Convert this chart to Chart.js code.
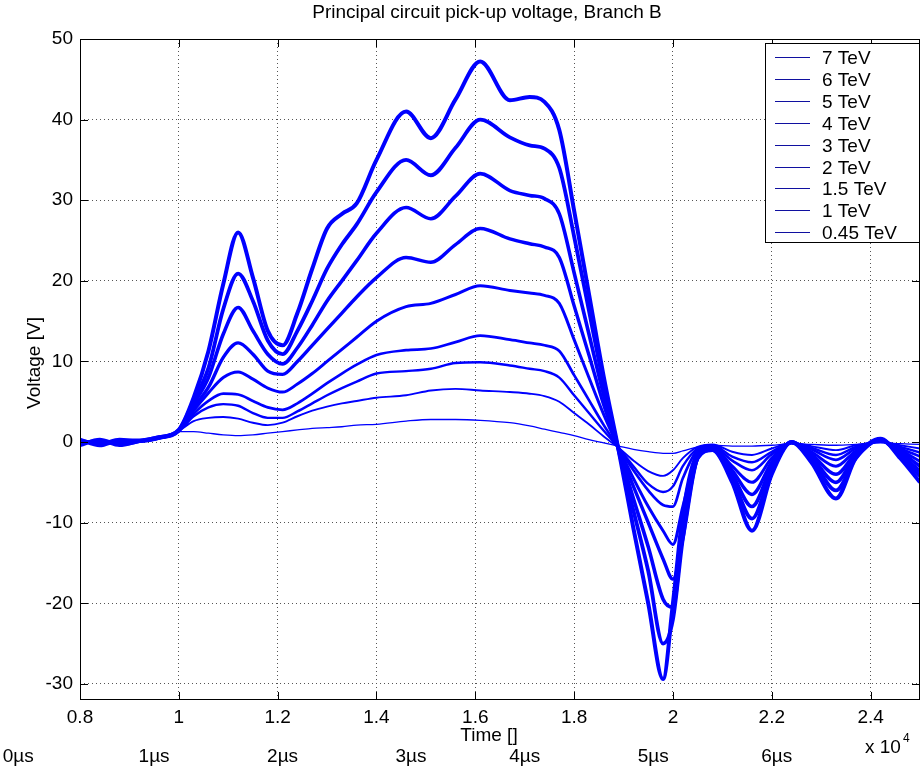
<!DOCTYPE html>
<html>
<head>
<meta charset="utf-8">
<title>Principal circuit pick-up voltage, Branch B</title>
<script src="https://cdn.jsdelivr.net/npm/chart.js@4.4.1/dist/chart.umd.min.js"></script>
<style>
  html, body { margin: 0; padding: 0; background: #fff; }
  #wrap { position: relative; width: 924px; height: 775px; }
</style>
</head>
<body>
<div id="wrap"><canvas id="pickup" width="924" height="775"></canvas></div>
<script>
"use strict";

// sample times (x 10^4) shared by every trace
const time = [0.80, 0.84, 0.88, 0.92, 0.96, 1.00, 1.03, 1.06, 1.09, 1.12,
  1.15, 1.18, 1.21, 1.24, 1.27, 1.30, 1.33, 1.36, 1.40, 1.46,
  1.51, 1.56, 1.61, 1.67, 1.71, 1.74, 1.77, 1.80, 1.83, 1.86,
  1.89, 1.92, 1.95, 1.98, 2.00, 2.02, 2.05, 2.08, 2.12, 2.16,
  2.20, 2.24, 2.28, 2.33, 2.37, 2.42, 2.46, 2.50];

const energies = ["7 TeV", "6 TeV", "5 TeV", "4 TeV", "3 TeV", "2 TeV", "1.5 TeV", "1 TeV", "0.45 TeV"];

// pick-up voltage [V] per beam energy
const v7 = [0.3, -0.4, 0.2, 0.2, 0.6, 1.5, 5.5, 11.3, 19.6, 26,
  20.4, 13.8, 12, 16, 21.5, 26.5, 28.3, 29.6, 35, 41,
  37.7, 42.5, 47.2, 42.4, 42.8, 42.2, 38.7, 28.7, 18.4, 8.1,
  -1, -10.7, -20, -29.4, -20, -9, -1.5, -1, -5, -11,
  -4, 0, -2.5, -7, -2, 0.4, -2, -5];
const v6 = [-0.4, 0.3, -0.3, 0.1, 0.6, 1.5, 5.1, 9.2, 16.5, 20.9,
  17.5, 12.6, 10.9, 13.8, 17.5, 21.5, 24.5, 27, 31, 35,
  33.1, 36.5, 40, 37.8, 36.8, 36.4, 34, 25.5, 16.3, 7.1,
  -1, -8.5, -16, -25, -22, -12, -2, -1, -4.5, -9.5,
  -3.5, 0, -2, -6, -2, 0.3, -1.8, -4.2];
const v5 = [0.2, -0.2, 0.3, 0.1, 0.5, 1.4, 4.7, 8, 13.4, 16.7,
  13.8, 10.9, 9.7, 11.7, 14.5, 17.5, 20, 22.5, 25.9, 29.1,
  27.7, 30.5, 33.3, 31.2, 30.6, 30.2, 28.3, 21, 13.4, 5.8,
  -0.9, -7, -13, -19.5, -20.5, -11, -2, -0.8, -4, -8,
  -3, 0, -1.8, -5, -1.6, 0.3, -1.5, -3.6];
const v4 = [-0.2, 0.2, -0.4, 0.1, 0.5, 1.4, 4.3, 6.8, 10.5, 12.3,
  10.9, 8.8, 8.4, 10, 12, 14, 16, 18, 20.4, 22.9,
  22.3, 24.5, 26.5, 25.2, 24.6, 24.2, 22.9, 16.9, 10.8, 4.6,
  -0.8, -5.5, -10, -14.5, -17, -12, -2, -0.7, -3.5, -6.5,
  -2.5, -0.1, -1.5, -4, -1.4, 0.2, -1.2, -3];
const v3 = [0.1, -0.1, 0.2, 0.1, 0.5, 1.4, 3.9, 6.1, 8, 8.7,
  7.8, 6.7, 6.2, 7.2, 8.5, 10, 11.5, 13, 15, 16.8,
  17.2, 18.3, 19.4, 18.8, 18.5, 18.2, 17.2, 12.7, 8, 3.4,
  -0.7, -4.5, -8, -11, -12.7, -8, -1.5, -0.6, -3, -5,
  -2, -0.1, -1.2, -3, -1.1, 0.2, -1, -2.4];
const v2 = [-0.1, 0.1, -0.1, 0.1, 0.5, 1.4, 3.5, 5.1, 6, 5.9,
  5.1, 4.3, 4, 4.8, 6, 7.3, 8.5, 9.6, 10.8, 11.4,
  11.6, 12.4, 13.2, 12.7, 12.3, 12, 11.3, 8.3, 5.2, 2.1,
  -0.7, -3.5, -6, -7.8, -8, -4.5, -1, -0.5, -2.3, -3.5,
  -1.5, -0.1, -0.9, -2.2, -0.8, 0.1, -0.8, -1.8];
const v15 = [0, 0, 0, 0.1, 0.5, 1.4, 3.2, 4.3, 4.7, 4.5,
  3.6, 3, 3, 3.8, 4.8, 5.8, 6.7, 7.5, 8.5, 8.8,
  9.1, 9.8, 9.9, 9.5, 9.1, 8.8, 8, 5.8, 3.6, 1.4,
  -0.7, -3, -5.2, -6.2, -5.5, -3, -0.8, -0.4, -1.8, -2.5,
  -1.2, -0.1, -0.7, -1.6, -0.6, 0.1, -0.6, -1.3];
const v1 = [0, 0, 0, 0.1, 0.5, 1.4, 2.6, 3, 3.1, 2.9,
  2.4, 2.1, 2.4, 3.2, 3.9, 4.4, 4.8, 5.1, 5.5, 5.8,
  6.4, 6.6, 6.4, 6.2, 6, 5.7, 5, 3.6, 2.2, 0.7,
  -0.7, -2.3, -3.6, -4.2, -3.5, -2, -0.6, -0.3, -1.2, -1.6,
  -0.8, -0.1, -0.5, -1, -0.4, 0, -0.4, -0.8];
const v045 = [0, 0, 0, 0.1, 0.5, 1.3, 1.3, 1.1, 0.9, 0.8,
  0.9, 1.1, 1.3, 1.5, 1.7, 1.8, 1.9, 2.1, 2.2, 2.6,
  2.8, 2.8, 2.7, 2.4, 2, 1.6, 1.2, 0.8, 0.3, -0.1,
  -0.5, -0.9, -1.2, -1.4, -1.4, -1.1, -0.6, -0.4, -0.5, -0.5,
  -0.4, -0.2, -0.3, -0.4, -0.3, -0.1, -0.2, -0.3];

const xTicks = [0.8, 1, 1.2, 1.4, 1.6, 1.8, 2, 2.2, 2.4];
const yTicks = [-30, -20, -10, 0, 10, 20, 30, 40, 50];

// microsecond marks under the time axis (placed on the time scale)
const usLabels = ["0µs", "1µs", "2µs", "3µs", "4µs", "5µs", "6µs"];
const usTimes = [0.675, 0.95, 1.21, 1.47, 1.70, 1.96, 2.21];

const series = [v7, v6, v5, v4, v3, v2, v15, v1, v045];
const lineWidths = [4, 3.8, 3.6, 3.4, 3, 2.7, 2.4, 1.9, 1.3];
const FONT = "Liberation Sans, Arial, Helvetica, sans-serif";

const datasets = energies.map(function (name, i) {
  return {
    label: name,
    data: time.map(function (t, j) { return { x: t, y: series[i][j] }; }),
    borderColor: "#0000ff",
    borderWidth: lineWidths[i],
    pointRadius: 0,
    fill: false,
    cubicInterpolationMode: "monotone"
  };
});

// box, inward ticks, legend and the loose labels
const frame = {
  id: "frame",
  afterDraw(chart) {
    const ctx = chart.ctx;
    const a = chart.chartArea;
    const x = chart.scales.x;
    const y = chart.scales.y;

    function seg(x1, y1, x2, y2) {
      ctx.beginPath();
      ctx.moveTo(x1, y1);
      ctx.lineTo(x2, y2);
      ctx.stroke();
    }

    ctx.save();
    ctx.strokeStyle = "#000";
    ctx.lineWidth = 1;
    ctx.strokeRect(Math.round(a.left) + 0.5, Math.round(a.top) + 0.5,
      Math.round(a.right - a.left) - 1, Math.round(a.bottom - a.top) - 1);

    xTicks.forEach(function (v) {
      const px = Math.round(x.getPixelForValue(v)) + 0.5;
      seg(px, a.bottom, px, a.bottom - 8);
      seg(px, a.top, px, a.top + 8);
    });
    yTicks.forEach(function (v) {
      const py = Math.round(y.getPixelForValue(v)) + 0.5;
      seg(a.left, py, a.left + 8, py);
      seg(a.right, py, a.right - 8, py);
    });

    // legend
    const lx = 765, ly = 43, lw = 154, lh = 199, row = 21.9;
    ctx.fillStyle = "#fff";
    ctx.fillRect(lx, ly, lw, lh);
    ctx.strokeStyle = "#000";
    ctx.strokeRect(lx + 0.5, ly + 0.5, lw, lh);
    ctx.font = "19px " + FONT;
    ctx.textBaseline = "middle";
    ctx.textAlign = "left";
    chart.data.datasets.forEach(function (ds, i) {
      const ry = Math.round(ly + 14 + i * row) + 0.5;
      ctx.strokeStyle = "#1010a0";
      ctx.lineWidth = 1;
      seg(lx + 10, ry, lx + 45, ry);
      ctx.fillStyle = "#000";
      ctx.fillText(ds.label, lx + 57, ry + 1);
    });

    // title and axis captions
    ctx.fillStyle = "#000";
    ctx.textAlign = "center";
    ctx.font = "19px " + FONT;
    ctx.fillText("Principal circuit pick-up voltage, Branch B", 487, 13);
    ctx.fillText("Time []", 489, 736);

    ctx.save();
    ctx.translate(35, 363);
    ctx.rotate(-Math.PI / 2);
    ctx.fillText("Voltage [V]", 0, 0);
    ctx.restore();

    ctx.textAlign = "left";
    ctx.fillText("x 10", 865, 748);
    ctx.font = "12px " + FONT;
    ctx.fillText("4", 903, 739);

    ctx.font = "19px " + FONT;
    ctx.textAlign = "center";
    usLabels.forEach(function (lab, i) {
      ctx.fillText(lab, x.getPixelForValue(usTimes[i]), 757);
    });
    ctx.restore();
  }
};

new Chart(document.getElementById("pickup"), {
  type: "line",
  data: { datasets: datasets },
  options: {
    responsive: false,
    devicePixelRatio: 1,
    animation: false,
    layout: { padding: { top: 39, right: 4, left: 0, bottom: 0 } },
    plugins: {
      legend: { display: false },
      title: { display: false },
      tooltip: { enabled: false }
    },
    scales: {
      x: {
        type: "linear",
        min: 0.8,
        max: 2.5,
        afterBuildTicks: function (s) { s.ticks = xTicks.map(function (v) { return { value: v }; }); },
        afterFit: function (s) { s.height = 75; },
        grid: { color: "#555", lineWidth: 1, drawTicks: false },
        border: { display: false, dash: [1, 3] },
        ticks: {
          color: "#000",
          padding: 6,
          maxRotation: 0,
          autoSkip: false,
          font: { family: FONT, size: 19 },
          callback: function (v) { return String(v); }
        }
      },
      y: {
        type: "linear",
        min: -32,
        max: 50,
        afterBuildTicks: function (s) { s.ticks = yTicks.map(function (v) { return { value: v }; }); },
        afterFit: function (s) { s.width = 80; },
        grid: { color: "#555", lineWidth: 1, drawTicks: false },
        border: { display: false, dash: [1, 3] },
        ticks: {
          color: "#000",
          padding: 7,
          autoSkip: false,
          font: { family: FONT, size: 19 },
          callback: function (v) { return String(v); }
        }
      }
    }
  },
  plugins: [frame]
});
</script>
</body>
</html>
